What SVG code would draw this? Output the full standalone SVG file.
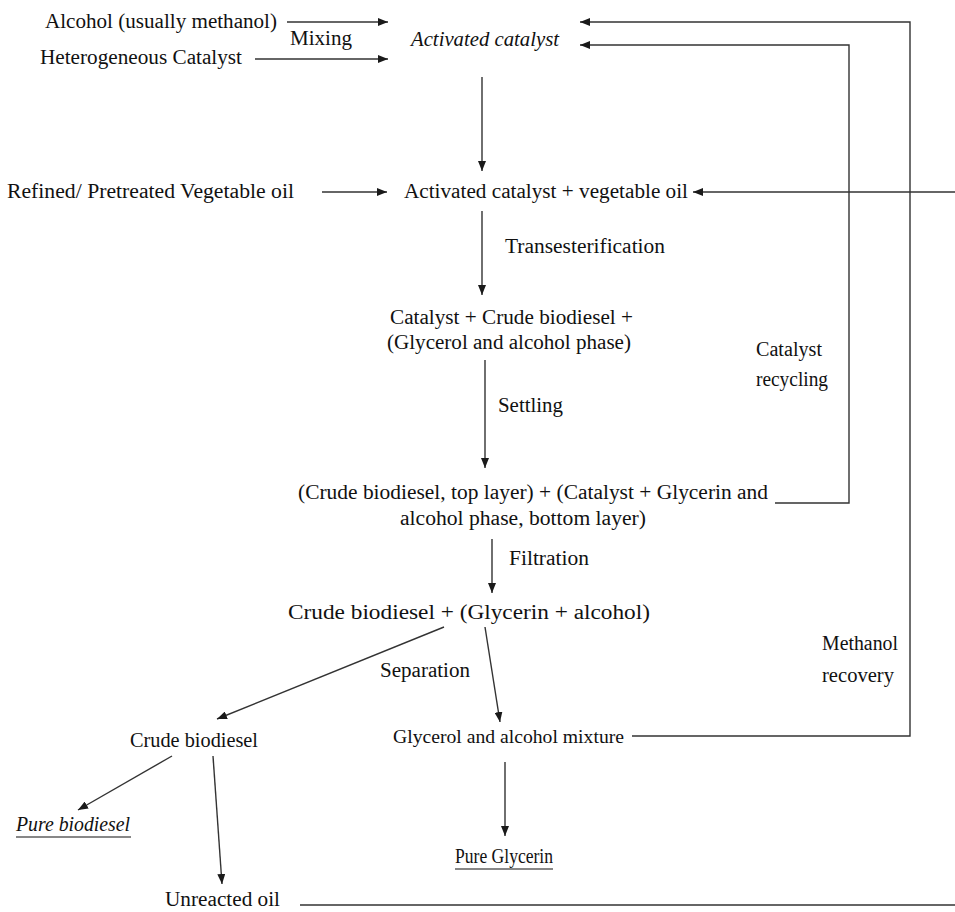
<svg xmlns="http://www.w3.org/2000/svg" width="955" height="912" viewBox="0 0 955 912">
  <defs>
    <marker id="arrow" viewBox="0 0 10 8" refX="10" refY="4" markerWidth="10" markerHeight="8" markerUnits="userSpaceOnUse" orient="auto">
      <path d="M0,0 L10,4 L0,8 Z" fill="#1a1a1a"/>
    </marker>
    <style>
      text { font-family: "Liberation Serif", "Times New Roman", serif; font-size: 20px; fill: #111; }
      .it { font-style: italic; }
      .sm { font-size: 18px; }
      .ln { fill: none; stroke: #333; stroke-width: 1.4; }
      .ar { fill: none; stroke: #333; stroke-width: 1.4; marker-end: url(#arrow); }
      .ul { stroke: #111; stroke-width: 1.2; }
    </style>
  </defs>
  <rect width="955" height="912" fill="#fff"/>

  <!-- process nodes -->
  <g id="alcohol"><text x="45" y="28" textLength="232" lengthAdjust="spacingAndGlyphs">Alcohol (usually methanol)</text></g>
  <g id="het-catalyst"><text x="40" y="64" textLength="202" lengthAdjust="spacingAndGlyphs">Heterogeneous Catalyst</text></g>
  <g id="activated-catalyst"><text class="it" x="411" y="46" textLength="148" lengthAdjust="spacingAndGlyphs">Activated catalyst</text></g>
  <g id="veg-oil-input"><text x="7" y="198" textLength="287" lengthAdjust="spacingAndGlyphs">Refined/ Pretreated Vegetable oil</text></g>
  <g id="catalyst-oil"><text x="404" y="198" textLength="284" lengthAdjust="spacingAndGlyphs">Activated catalyst + vegetable oil</text></g>
  <g id="reaction-mix">
    <text x="390" y="324" textLength="243" lengthAdjust="spacingAndGlyphs">Catalyst + Crude biodiesel +</text>
    <text x="387" y="349" textLength="244" lengthAdjust="spacingAndGlyphs">(Glycerol and alcohol phase)</text>
  </g>
  <g id="layers">
    <text x="298" y="499" textLength="470" lengthAdjust="spacingAndGlyphs">(Crude biodiesel, top layer) + (Catalyst + Glycerin and</text>
    <text x="400" y="525" textLength="246" lengthAdjust="spacingAndGlyphs">alcohol phase, bottom layer)</text>
  </g>
  <g id="filtrate"><text x="288" y="619" textLength="362" lengthAdjust="spacingAndGlyphs">Crude biodiesel + (Glycerin + alcohol)</text></g>
  <g id="crude-biodiesel"><text x="130" y="747" textLength="128" lengthAdjust="spacingAndGlyphs">Crude biodiesel</text></g>
  <g id="glycerol-mixture"><text class="sm" x="393" y="743" textLength="231" lengthAdjust="spacingAndGlyphs">Glycerol and alcohol mixture</text></g>
  <g id="pure-biodiesel">
    <text class="it" x="16" y="831" textLength="114" lengthAdjust="spacingAndGlyphs">Pure biodiesel</text>
    <line class="ul" x1="16" y1="837" x2="131" y2="837"/>
  </g>
  <g id="pure-glycerin">
    <text x="455" y="863" font-size="19" textLength="98" lengthAdjust="spacingAndGlyphs">Pure Glycerin</text>
    <line class="ul" x1="455" y1="869" x2="553" y2="869" stroke-width="2"/>
  </g>
  <g id="unreacted-oil"><text x="165" y="906" textLength="115" lengthAdjust="spacingAndGlyphs">Unreacted oil</text></g>

  <!-- step labels -->
  <g id="labels">
    <text x="290" y="45" textLength="62" lengthAdjust="spacingAndGlyphs">Mixing</text>
    <text x="505" y="253" textLength="160" lengthAdjust="spacingAndGlyphs">Transesterification</text>
    <text x="498" y="412" textLength="65" lengthAdjust="spacingAndGlyphs">Settling</text>
    <text x="509" y="565" textLength="80" lengthAdjust="spacingAndGlyphs">Filtration</text>
    <text x="380" y="677" textLength="90" lengthAdjust="spacingAndGlyphs">Separation</text>
    <text x="756" y="356" textLength="66" lengthAdjust="spacingAndGlyphs">Catalyst</text>
    <text x="756" y="386" textLength="72" lengthAdjust="spacingAndGlyphs">recycling</text>
    <text x="822" y="650" textLength="76" lengthAdjust="spacingAndGlyphs">Methanol</text>
    <text x="822" y="682" textLength="72" lengthAdjust="spacingAndGlyphs">recovery</text>
  </g>

  <!-- connectors -->
  <g id="connectors">
    <line class="ar" x1="287" y1="22" x2="388" y2="22"/>
    <line class="ar" x1="255" y1="59" x2="388" y2="59"/>
    <line class="ar" x1="482" y1="77" x2="482" y2="171"/>
    <line class="ar" x1="322" y1="192" x2="387" y2="192"/>
    <line class="ar" x1="955" y1="192" x2="693" y2="192"/>
    <line class="ar" x1="482" y1="211" x2="482" y2="295"/>
    <line class="ar" x1="485" y1="360" x2="485" y2="468"/>
    <line class="ar" x1="492" y1="539" x2="492" y2="593"/>
    <line class="ar" x1="444" y1="627" x2="217" y2="719"/>
    <line class="ar" x1="485" y1="627" x2="500" y2="722"/>
    <line class="ar" x1="172" y1="756" x2="78" y2="810"/>
    <line class="ar" x1="213" y1="756" x2="222" y2="884"/>
    <line class="ar" x1="505" y1="762" x2="505" y2="836"/>
    <!-- catalyst recycling loop -->
    <polyline class="ar" points="775,503 849,503 849,45 580,45"/>
    <!-- methanol recovery loop -->
    <polyline class="ar" points="632,736 910,736 910,22 580,22"/>
    <!-- unreacted oil return -->
    <line class="ln" x1="300" y1="905" x2="955" y2="905"/>
  </g>
</svg>
